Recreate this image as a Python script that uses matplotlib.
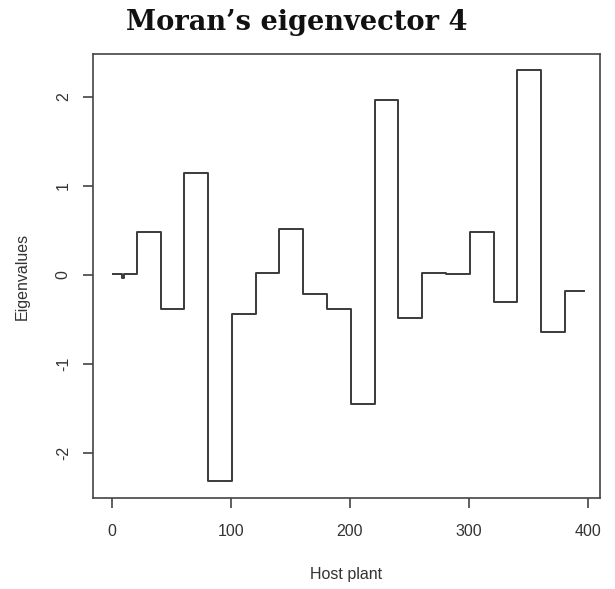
import matplotlib
matplotlib.use("Agg")
import matplotlib.pyplot as plt

# step edges (host plant index) and the eigenvector value held from each edge
edges = [1, 9, 10, 21, 41, 61, 81, 101, 121, 141, 161, 181, 201, 221,
         241, 261, 281, 301, 321, 341, 361, 381, 397]
values = [0.01, -0.04, 0.01, 0.48, -0.38, 1.15, -2.32, -0.44, 0.02, 0.52,
          -0.22, -0.38, -1.45, 1.97, -0.49, 0.02, 0.01, 0.48, -0.30, 2.31,
          -0.64, -0.18]
xticks = [0, 100, 200, 300, 400]
yticks = [-2, -1, 0, 1, 2]

plt.rcParams['font.family'] = ['Liberation Sans', 'DejaVu Sans']
ink = "#333333"

fig = plt.figure(figsize=(6.15, 5.89), dpi=100)
ax = fig.add_axes([0.1512, 0.1545, 0.8244, 0.7538])

ax.step(edges, values + [values[-1]], where="post", color="#3a3a3a", lw=1.4)

ax.set_xlim(-15.8, 410.5)
ax.set_ylim(-2.51, 2.485)
ax.set_xticks(xticks)
ax.set_yticks(yticks)
ax.set_yticklabels([str(v) for v in yticks], rotation=90, va="center")
ax.tick_params(axis="both", direction="out", length=7, width=1.1,
               colors=ink, labelsize=11.5, pad=12)
ax.tick_params(axis="y", pad=9)
for s in ax.spines.values():
    s.set_color("#444444")
    s.set_linewidth(1.2)

ax.set_xlabel("Host plant", fontsize=11.5, color=ink, labelpad=20)
ax.set_ylabel("Eigenvalues", fontsize=11.5, color=ink, labelpad=19)

fig.text(297 / 615, 1 - 23 / 589, "Moran\u2019s eigenvector 4", ha="center",
         va="center", fontsize=19.6, fontweight="bold", family="DejaVu Serif",
         color="#111111")

fig.savefig("out.png", dpi=100)
